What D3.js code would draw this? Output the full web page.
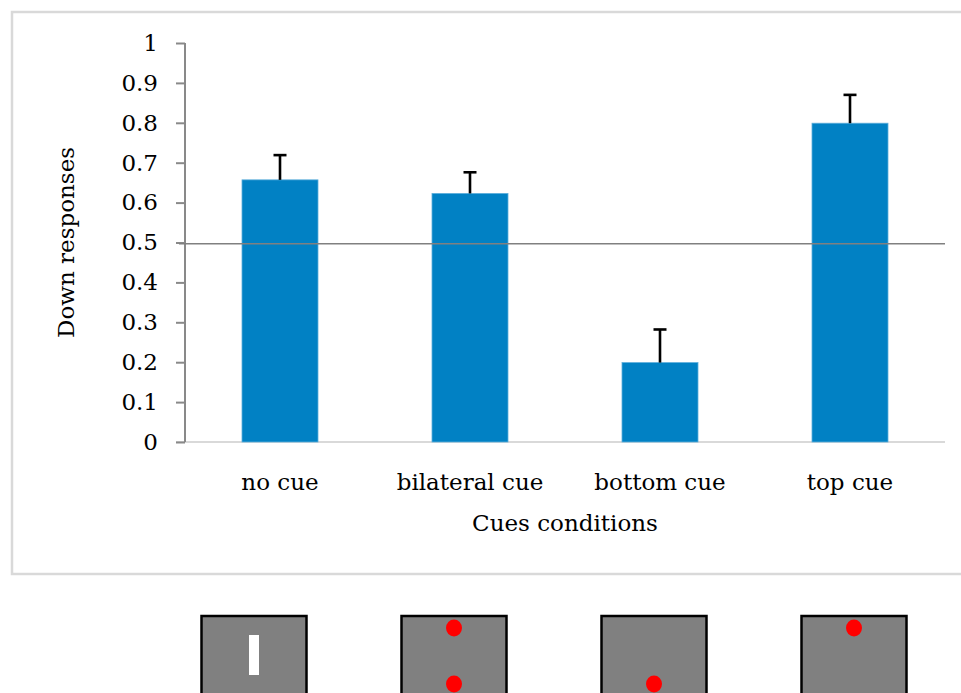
<!DOCTYPE html>
<html>
<head>
<meta charset="utf-8">
<script src="https://cdn.jsdelivr.net/npm/d3@7"></script>
<style>
  html, body { margin: 0; padding: 0; background: #fff; }
  svg { display: block; }
  text { font-family: "DejaVu Serif", "Liberation Serif", serif; fill: #000; }
</style>
</head>
<body>
<svg id="chart" width="961" height="693"></svg>
<script>
// Cue conditions and proportion of "down" responses (mean + upper error)
const categories = ["no cue", "bilateral cue", "bottom cue", "top cue"];
const means = [0.657, 0.623, 0.199, 0.799];
const errors = [0.062, 0.053, 0.083, 0.071];
const yTicks = [0, 0.1, 0.2, 0.3, 0.4, 0.5, 0.6, 0.7, 0.8, 0.9, 1];
const chanceLevel = 0.497;
// Red cue dots shown in each condition's display
const cueDots = [[], ["top", "bottom"], ["bottom"], ["top"]];

const svg = d3.select("#chart");

// Chart frame
svg.append("rect")
  .attr("x", 12).attr("y", 12)
  .attr("width", 965).attr("height", 562)
  .attr("fill", "none")
  .attr("stroke", "#d9d9d9")
  .attr("stroke-width", 2.5);

const plot = { left: 185, right: 945, top: 43, bottom: 442 };

const x = d3.scaleBand()
  .domain(categories)
  .range([plot.left, plot.right])
  .paddingInner(0.6)
  .paddingOuter(0.3);

const y = d3.scaleLinear()
  .domain([0, 1])
  .range([plot.bottom, plot.top]);

// x axis baseline
svg.append("line")
  .attr("x1", plot.left - 9).attr("x2", plot.right)
  .attr("y1", y(0)).attr("y2", y(0))
  .attr("stroke", "#d9d9d9").attr("stroke-width", 2);

// y axis
const yAxis = d3.axisLeft(y)
  .tickValues(yTicks)
  .tickSize(9)
  .tickPadding(18)
  .tickFormat(d => d === 0 ? "0" : d === 1 ? "1" : d3.format(".1f")(d));

const yg = svg.append("g")
  .attr("transform", `translate(${plot.left},0)`)
  .call(yAxis);
yg.select(".domain").attr("stroke", "#898989").attr("stroke-width", 2)
  .attr("d", `M0,${y(1)}V${y(0)}`);
yg.selectAll(".tick line").attr("stroke", "#898989").attr("stroke-width", 2);
yg.selectAll(".tick text")
  .attr("font-size", 23)
  .attr("font-family", "DejaVu Serif, serif")
  .attr("fill", "#000");

const data = categories.map((c, i) => ({ c, m: means[i], e: errors[i] }));

// Bars
svg.append("g").selectAll("rect")
  .data(data)
  .join("rect")
  .attr("x", d => x(d.c))
  .attr("width", x.bandwidth())
  .attr("y", d => y(d.m))
  .attr("height", d => y(0) - y(d.m))
  .attr("fill", "#0181c4")
  .attr("stroke", "#5eaedb")
  .attr("stroke-width", 0.8);

// Error bars (upper only)
const eb = svg.append("g").selectAll("g")
  .data(data)
  .join("g")
  .attr("stroke", "#000")
  .attr("stroke-width", 2.6);
eb.append("line")
  .attr("x1", d => x(d.c) + x.bandwidth() / 2)
  .attr("x2", d => x(d.c) + x.bandwidth() / 2)
  .attr("y1", d => y(d.m))
  .attr("y2", d => y(d.m + d.e));
eb.append("line")
  .attr("x1", d => x(d.c) + x.bandwidth() / 2 - 6.5)
  .attr("x2", d => x(d.c) + x.bandwidth() / 2 + 6.5)
  .attr("y1", d => y(d.m + d.e))
  .attr("y2", d => y(d.m + d.e));

// Chance level reference line
svg.append("line")
  .attr("x1", plot.left - 6).attr("x2", plot.right)
  .attr("y1", y(chanceLevel)).attr("y2", y(chanceLevel))
  .attr("stroke", "#808080").attr("stroke-width", 1.5);

// Category labels
svg.append("g").selectAll("text")
  .data(categories)
  .join("text")
  .attr("x", d => x(d) + x.bandwidth() / 2)
  .attr("y", 490)
  .attr("text-anchor", "middle")
  .attr("font-size", 23)
  .text(d => d);

// Axis titles
svg.append("text")
  .attr("x", (plot.left + plot.right) / 2)
  .attr("y", 531)
  .attr("text-anchor", "middle")
  .attr("font-size", 23)
  .text("Cues conditions");

svg.append("text")
  .attr("transform", `translate(74,${(y(0) + y(1)) / 2}) rotate(-90)`)
  .attr("text-anchor", "middle")
  .attr("font-size", 23)
  .text("Down responses");

// Cue display illustrations
const iconX = d3.scalePoint()
  .domain(categories)
  .range([254, 854]);
const iconW = 105, iconH = 80, iconTop = 616;

const icons = svg.append("g").selectAll("g")
  .data(categories.map((c, i) => ({ c, i, dots: cueDots[i] })))
  .join("g")
  .attr("transform", d => `translate(${iconX(d.c) - iconW / 2},${iconTop})`);

icons.append("rect")
  .attr("width", iconW).attr("height", iconH)
  .attr("fill", "#808080")
  .attr("stroke", "#000")
  .attr("stroke-width", 2.5);

// Fixation bar when no cue is shown
icons.filter(d => d.dots.length === 0)
  .append("rect")
  .attr("x", iconW / 2 - 5).attr("y", 19)
  .attr("width", 10).attr("height", 40)
  .attr("fill", "#fff");

icons.selectAll("ellipse")
  .data(d => d.dots)
  .join("ellipse")
  .attr("cx", iconW / 2)
  .attr("cy", p => p === "top" ? 12 : 68)
  .attr("rx", 8).attr("ry", 8.5)
  .attr("fill", "#ff0000");
</script>
</body>
</html>
